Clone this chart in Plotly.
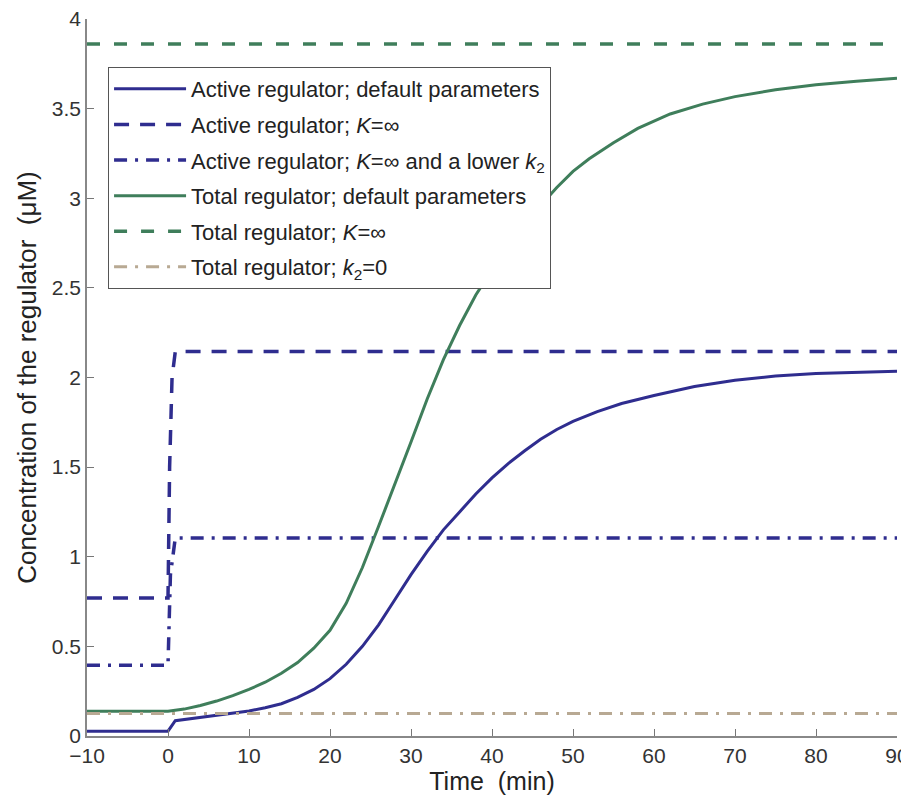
import plotly.graph_objects as go

# ---- data ----
t_active = [-10, -5, 0, 0.9, 2, 4, 6, 8, 10, 12, 14, 16, 18, 20, 22, 24, 26, 28, 30, 32, 34, 36, 38,
            40, 42, 44, 46, 48, 50, 53, 56, 60, 65, 70, 75, 80, 85, 90]
active_default = [0.027, 0.027, 0.027, 0.085, 0.092, 0.103, 0.115, 0.128, 0.14, 0.158, 0.18, 0.215, 0.26,
                  0.32, 0.40, 0.50, 0.62, 0.76, 0.90, 1.03, 1.15, 1.25, 1.35, 1.44, 1.52, 1.59, 1.655,
                  1.71, 1.755, 1.81, 1.855, 1.90, 1.95, 1.985, 2.008, 2.022, 2.03, 2.035]

t_active_kinf = [-10, 0, 0.2, 0.5, 0.9, 90]
active_kinf = [0.77, 0.77, 1.5, 2.0, 2.145, 2.145]

t_active_kinf_low = [-10, 0, 0.3, 0.9, 90]
active_kinf_low = [0.395, 0.395, 0.9, 1.105, 1.105]

t_total = [-10, -5, 0, 2, 4, 6, 8, 10, 12, 14, 16, 18, 20, 22, 24, 26, 28, 30, 32, 34, 36, 38, 40,
           42, 44, 46, 48, 50, 52, 55, 58, 62, 66, 70, 75, 80, 85, 90]
total_default = [0.138, 0.138, 0.138, 0.15, 0.17, 0.195, 0.225, 0.26, 0.30, 0.35, 0.41, 0.49, 0.59,
                 0.74, 0.94, 1.17, 1.40, 1.64, 1.88, 2.10, 2.29, 2.46, 2.60, 2.73, 2.85, 2.96, 3.06,
                 3.15, 3.22, 3.31, 3.39, 3.47, 3.525, 3.567, 3.605, 3.633, 3.653, 3.67]

t_total_kinf = [-10, 90]
total_kinf = [3.86, 3.86]

t_total_k2zero = [-10, 90]
total_k2zero = [0.125, 0.125]

x_ticks = [-10, 0, 10, 20, 30, 40, 50, 60, 70, 80, 90]
y_ticks = [0, 0.5, 1, 1.5, 2, 2.5, 3, 3.5, 4]

names = [
    "Active regulator; default parameters",
    "Active regulator; <i>K</i>=∞",
    "Active regulator; <i>K</i>=∞ and a lower <i>k</i><sub>2</sub>",
    "Total regulator; default parameters",
    "Total regulator; <i>K</i>=∞",
    "Total regulator; <i>k</i><sub>2</sub>=0",
]

BLUE = "#2F2D8F"
GREEN = "#3F7E5B"
TAN = "#B8A993"

series = [
    (t_active, active_default, BLUE, "solid", 3),
    (t_active_kinf, active_kinf, BLUE, "15px,11px", 3.5),
    (t_active_kinf_low, active_kinf_low, BLUE, "13px,8px,3px,8px", 3.5),
    (t_total, total_default, GREEN, "solid", 3),
    (t_total_kinf, total_kinf, GREEN, "13px,14px", 3.5),
    (t_total_k2zero, total_k2zero, TAN, "13px,8px,3px,8px", 3),
]

fig = go.Figure()
for i, (x, y, c, d, w) in enumerate(series):
    fig.add_trace(go.Scatter(
        x=x, y=y, mode="lines", name=names[i],
        line=dict(color=c, dash=d, width=w),
        legendgroup=str(i),
    ))

FONT = "Arial, Liberation Sans, Helvetica, sans-serif"
fig.update_layout(
    width=901, height=789,
    margin=dict(l=79, r=12, t=11, b=61),
    plot_bgcolor="white", paper_bgcolor="white",
    font=dict(family=FONT, size=21, color="#222"),
    showlegend=True,
    legend=dict(
        x=0.026, y=0.933, xanchor="left", yanchor="top",
        bgcolor="white", bordercolor="#555", borderwidth=1,
        font=dict(size=22, color="#222"),
        tracegroupgap=4,
        itemwidth=72,
    ),
    xaxis=dict(
        range=[-10, 90], tickvals=x_ticks,
        ticks="inside", ticklen=7, tickcolor="#777", showline=True, linecolor="#888", linewidth=1.5,
        showgrid=False, zeroline=False, automargin=False, ticklabeloverflow="allow",
        tickfont=dict(size=21, color="#333"),
        title=dict(text="Time  (min)", font=dict(size=25, color="#222"), standoff=0),
    ),
    yaxis=dict(
        range=[0, 4], tickvals=y_ticks,
        ticks="inside", ticklen=7, tickcolor="#777", showline=True, linecolor="#888", linewidth=1.5,
        showgrid=False, zeroline=False, automargin=False, ticklabeloverflow="allow",
        tickfont=dict(size=21, color="#333"),
        title=dict(text="Concentration of the regulator  (μM)", font=dict(size=26, color="#222"), standoff=8),
    ),
)

fig.write_html("out.html")
